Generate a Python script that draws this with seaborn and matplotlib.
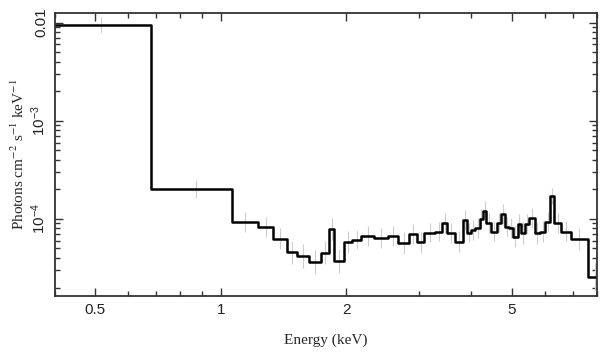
import numpy as np
import matplotlib
matplotlib.use("Agg")
import matplotlib.pyplot as plt
import matplotlib.ticker as mticker
import seaborn as sns

# bin edges (keV) and flux per bin
edges = [0.35, 0.682, 1.067, 1.226, 1.336, 1.440, 1.527, 1.629, 1.741, 1.820,
         1.872, 1.982, 2.064, 2.174, 2.336, 2.520, 2.665, 2.837, 2.960, 3.083,
         3.277, 3.401, 3.496, 3.661, 3.813, 3.907, 3.995, 4.090, 4.182, 4.268,
         4.347, 4.445, 4.613, 4.699, 4.804, 4.920, 5.030, 5.171, 5.249, 5.367,
         5.496, 5.673, 5.843, 6.014, 6.176, 6.314, 6.579, 6.927, 7.599, 8.2]
flux = [9.45e-3, 2.01e-4, 9.26e-5, 8.23e-5, 6.30e-5, 4.56e-5, 4.20e-5, 3.65e-5,
        4.54e-5, 7.85e-5, 3.71e-5, 5.79e-5, 6.15e-5, 6.71e-5, 6.40e-5, 6.71e-5,
        5.66e-5, 7.04e-5, 5.76e-5, 7.25e-5, 7.42e-5, 9.04e-5, 7.15e-5, 5.87e-5,
        9.77e-5, 7.25e-5, 7.73e-5, 8.04e-5, 9.93e-5, 1.215e-4, 9.04e-5, 7.42e-5,
        9.17e-5, 1.117e-4, 8.35e-5, 8.10e-5, 6.60e-5, 8.89e-5, 7.15e-5, 8.89e-5,
        1.017e-4, 7.15e-5, 7.42e-5, 9.39e-5, 1.715e-4, 9.04e-5, 7.42e-5, 6.21e-5,
        2.58e-5]
# half length of the grey error bars (dex)
err_dex = [0.08, 0.09, 0.10, 0.10, 0.11, 0.12, 0.12, 0.12, 0.12, 0.11,
           0.12, 0.11, 0.10, 0.10, 0.10, 0.10, 0.11, 0.10, 0.11, 0.10,
           0.10, 0.10, 0.10, 0.11, 0.10, 0.10, 0.10, 0.10, 0.10, 0.10,
           0.10, 0.10, 0.10, 0.10, 0.10, 0.10, 0.11, 0.10, 0.11, 0.10,
           0.10, 0.11, 0.11, 0.10, 0.08, 0.10, 0.10, 0.11, 0.14]

sns.set_style("ticks")
plt.rcParams['font.family'] = ['Liberation Sans', 'DejaVu Sans']
plt.rcParams['mathtext.fontset'] = 'custom'
plt.rcParams['mathtext.rm'] = 'Liberation Sans'
plt.rcParams['mathtext.it'] = 'Liberation Sans'

fig = plt.figure(figsize=(6.09, 3.58), dpi=100)
ax = fig.add_axes([0.0903, 0.174, 0.8897, 0.7905])

edges_a = np.array(edges)
flux_a = np.array(flux)
centers = (edges_a[:-1] + edges_a[1:]) / 2
lo = flux_a - flux_a * 10 ** (-np.array(err_dex))
hi = flux_a * 10 ** np.array(err_dex) - flux_a

# data error bars
ax.errorbar(centers, flux_a, yerr=[lo, hi], fmt='none', ecolor='#cccccc',
            elinewidth=0.8, capsize=0, zorder=1)

# model step line
step_y = list(flux) + [flux[-1]]
sns.lineplot(x=edges, y=step_y, drawstyle='steps-post', color='black',
             linewidth=1.8, ax=ax, zorder=2, estimator=None, sort=False)

ax.set_xscale('log')
ax.set_yscale('log')
ax.set_xlim(0.4, 8.0)
ax.set_ylim(1.65e-5, 0.0126)

ax.xaxis.set_major_locator(mticker.FixedLocator([0.5, 1, 2, 5]))
ax.xaxis.set_major_formatter(mticker.FixedFormatter(['0.5', '1', '2', '5']))
ax.xaxis.set_minor_locator(mticker.LogLocator(base=10, subs=np.arange(2, 10)))
ax.xaxis.set_minor_formatter(mticker.NullFormatter())
ax.yaxis.set_major_locator(mticker.FixedLocator([1e-4, 1e-3, 1e-2]))
ax.yaxis.set_major_formatter(mticker.FixedFormatter([r'$10^{-4}$', r'$10^{-3}$', '0.01']))
ax.yaxis.set_minor_locator(mticker.LogLocator(base=10, subs=np.arange(2, 10)))
ax.yaxis.set_minor_formatter(mticker.NullFormatter())

ax.tick_params(which='both', direction='in', top=True, right=True,
               color='#333333', width=1.0, labelsize=11, labelcolor='#222222')
ax.tick_params(which='major', length=6, pad=5)
ax.tick_params(which='minor', length=3.5)
for lab in ax.get_yticklabels():
    lab.set_rotation(90)
    lab.set_va('center')

for sp in ax.spines.values():
    sp.set_linewidth(1.3)
    sp.set_color('#333333')

ax.set_xlabel('Energy (keV)', family=['Liberation Serif', 'DejaVu Serif'],
              fontsize=11, labelpad=12)
ax.set_ylabel(r'Photons cm$^{-2}$ s$^{-1}$ keV$^{-1}$',
              family=['Liberation Serif', 'DejaVu Serif'], fontsize=11,
              labelpad=2, math_fontfamily='stix')

plt.savefig('out.png', dpi=100)
